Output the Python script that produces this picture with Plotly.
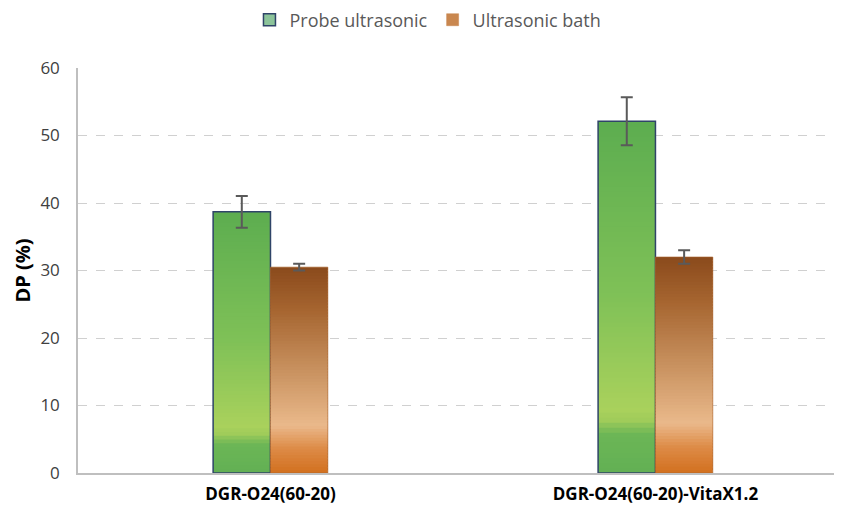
import plotly.graph_objects as go

categories = ["DGR-O24(60-20)", "DGR-O24(60-20)-VitaX1.2"]
series_names = ["Probe ultrasonic", "Ultrasonic bath"]
probe_values = [38.7, 52.1]
probe_errors = [2.35, 3.55]
bath_values = [30.5, 32.0]
bath_errors = [0.5, 1.0]
y_ticks = [0, 10, 20, 30, 40, 50, 60]

# gradient stops (fraction of bar height from bottom -> colour)
green_stops = [(0.0, "#62b054"), (0.11, "#6cb656"), (0.15, "#a0cc5a"), (0.18, "#a9d15c"),
               (0.5, "#80c157"), (1.0, "#5cad50")]
brown_stops = [(0.0, "#d2701f"), (0.12, "#dd8b47"), (0.23, "#eab98b"), (0.5, "#c8915f"),
               (0.8, "#a5642f"), (1.0, "#8a4a1c")]

FONT = "'Open Sans', sans-serif"


def hex2rgb(h):
    h = h.lstrip("#")
    return tuple(int(h[i:i + 2], 16) for i in (0, 2, 4))


def interp(stops, t):
    for (t0, c0), (t1, c1) in zip(stops[:-1], stops[1:]):
        if t0 <= t <= t1:
            a = (t - t0) / (t1 - t0) if t1 > t0 else 0
            r0, g0, b0 = hex2rgb(c0)
            r1, g1, b1 = hex2rgb(c1)
            return "rgb(%d,%d,%d)" % (round(r0 + (r1 - r0) * a), round(g0 + (g1 - g0) * a),
                                      round(b0 + (b1 - b0) * a))
    return stops[-1][1]


BAR_W = 0.149
N = 70
fig = go.Figure()

# legend entries
fig.add_trace(go.Bar(x=categories, y=[None, None], name=series_names[0],
                     marker=dict(color="#8cc49a", line=dict(color="#2f4468", width=1.5)),
                     offset=-BAR_W, width=BAR_W))
fig.add_trace(go.Bar(x=categories, y=[None, None], name=series_names[1],
                     marker=dict(color="#c9874f", line=dict(color="#c9874f", width=0.5)),
                     offset=0, width=BAR_W))


def add_gradient_bars(values, errors, stops, offset, line_color, line_width):
    for k in range(N):
        col = interp(stops, (k + 0.5) / N)
        bases = [v * k / N for v in values]
        heights = [min(v * (k + 1.8) / N, v) - v * k / N for v in values]
        fig.add_trace(go.Bar(
            x=categories, y=heights, base=bases,
            marker=dict(color=col, line=dict(width=0)),
            offset=offset, width=BAR_W, showlegend=False, hoverinfo="skip"))
    fig.add_trace(go.Bar(
        x=categories, y=values, offset=offset, width=BAR_W, showlegend=False,
        marker=dict(color="rgba(0,0,0,0)", line=dict(color=line_color, width=line_width)),
        error_y=dict(type="data", array=errors, color="#5a5a5a", thickness=2, width=6)))


add_gradient_bars(probe_values, probe_errors, green_stops, -BAR_W, "#2f4468", 1.5)
add_gradient_bars(bath_values, bath_errors, brown_stops, 0, "#a9632c", 0.6)

# page body has an 8px default margin, so the figure is sized to fit the window
fig.update_layout(
    width=834, height=498,
    margin=dict(l=70, r=6, t=60, b=33, autoexpand=False),
    paper_bgcolor="white", plot_bgcolor="white",
    barmode="overlay",
    font=dict(family=FONT, color="#404040"),
    legend=dict(orientation="h", x=0.4617, xanchor="center", y=1.1185, yanchor="middle",
                font=dict(size=18, color="#595959", family=FONT),
                itemwidth=30, traceorder="normal"),
    showlegend=True,
)
fig.update_xaxes(range=[-0.5, 1.469], showline=True, linecolor="#bfbfbf", linewidth=1.5,
                 ticks="", automargin=False, ticklabelstandoff=5,
                 tickfont=dict(size=17, color="#000000", family=FONT, weight="bold"),
                 showgrid=False, zeroline=False)
fig.update_yaxes(range=[0, 60], tickvals=y_ticks, showline=True, linecolor="#bfbfbf", linewidth=1.5,
                 showgrid=True, gridcolor="#d0d0d0", griddash="dash", gridwidth=1,
                 zeroline=False, ticks="", ticklabelstandoff=13, automargin=False,
                 tickfont=dict(size=17, color="#404040", family=FONT),
                 title=dict(text="<b>DP (%)</b>", font=dict(size=20, color="#000000", family=FONT),
                            standoff=4))

fig.write_html("out.html")
